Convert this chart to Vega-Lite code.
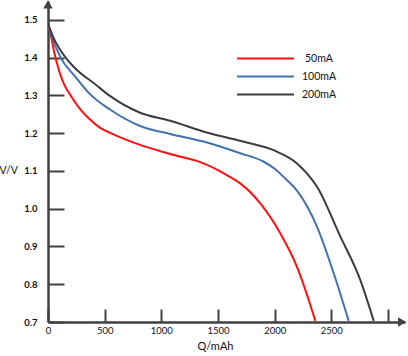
{
  "$schema": "https://vega.github.io/schema/vega-lite/v6.json",
  "autosize": "none",
  "width": 357,
  "height": 321,
  "padding": {"left": 48, "top": 1, "right": 3, "bottom": 34},
  "background": "white",
  "config": {"view": {"stroke": null}, "font": "Lato"},
  "datasets": {
    "curves": [
      {"s": "50mA", "q": 0, "v": 1.490},
      {"s": "50mA", "q": 29, "v": 1.454},
      {"s": "50mA", "q": 53, "v": 1.417},
      {"s": "50mA", "q": 97, "v": 1.366},
      {"s": "50mA", "q": 141, "v": 1.330},
      {"s": "50mA", "q": 200, "v": 1.300},
      {"s": "50mA", "q": 280, "v": 1.265},
      {"s": "50mA", "q": 371, "v": 1.236},
      {"s": "50mA", "q": 450, "v": 1.216},
      {"s": "50mA", "q": 563, "v": 1.199},
      {"s": "50mA", "q": 813, "v": 1.169},
      {"s": "50mA", "q": 1078, "v": 1.145},
      {"s": "50mA", "q": 1372, "v": 1.120},
      {"s": "50mA", "q": 1578, "v": 1.089},
      {"s": "50mA", "q": 1696, "v": 1.067},
      {"s": "50mA", "q": 1873, "v": 1.014},
      {"s": "50mA", "q": 2049, "v": 0.935},
      {"s": "50mA", "q": 2197, "v": 0.846},
      {"s": "50mA", "q": 2359, "v": 0.703},
      {"s": "100mA", "q": 0, "v": 1.490},
      {"s": "100mA", "q": 40, "v": 1.450},
      {"s": "100mA", "q": 112, "v": 1.400},
      {"s": "100mA", "q": 240, "v": 1.350},
      {"s": "100mA", "q": 375, "v": 1.302},
      {"s": "100mA", "q": 550, "v": 1.262},
      {"s": "100mA", "q": 813, "v": 1.219},
      {"s": "100mA", "q": 1078, "v": 1.198},
      {"s": "100mA", "q": 1372, "v": 1.178},
      {"s": "100mA", "q": 1696, "v": 1.147},
      {"s": "100mA", "q": 1900, "v": 1.125},
      {"s": "100mA", "q": 2000, "v": 1.106},
      {"s": "100mA", "q": 2100, "v": 1.078},
      {"s": "100mA", "q": 2197, "v": 1.048},
      {"s": "100mA", "q": 2374, "v": 0.952},
      {"s": "100mA", "q": 2521, "v": 0.829},
      {"s": "100mA", "q": 2653, "v": 0.703},
      {"s": "200mA", "q": 0, "v": 1.490},
      {"s": "200mA", "q": 45, "v": 1.455},
      {"s": "200mA", "q": 156, "v": 1.400},
      {"s": "200mA", "q": 260, "v": 1.366},
      {"s": "200mA", "q": 406, "v": 1.332},
      {"s": "200mA", "q": 540, "v": 1.300},
      {"s": "200mA", "q": 813, "v": 1.254},
      {"s": "200mA", "q": 1078, "v": 1.233},
      {"s": "200mA", "q": 1400, "v": 1.202},
      {"s": "200mA", "q": 1720, "v": 1.178},
      {"s": "200mA", "q": 1990, "v": 1.155},
      {"s": "200mA", "q": 2197, "v": 1.120},
      {"s": "200mA", "q": 2374, "v": 1.058},
      {"s": "200mA", "q": 2580, "v": 0.926},
      {"s": "200mA", "q": 2756, "v": 0.811},
      {"s": "200mA", "q": 2874, "v": 0.703}
    ],
    "arrows": [
      {"q": 0, "v": 1.541, "shape": "triangle-up"},
      {"q": 3125, "v": 0.7, "shape": "triangle-right"}
    ]
  },
  "layer": [
    {
      "data": {"name": "curves"},
      "mark": {"type": "line", "interpolate": "monotone", "strokeWidth": 2, "clip": true},
      "encoding": {
        "x": {
          "field": "q", "type": "quantitative",
          "scale": {"domain": [0, 3150], "nice": false, "zero": false},
          "axis": {
            "values": [0, 500, 1000, 1500, 2000, 2500, 3000],
            "labelExpr": "datum.value == 3000 ? '' : datum.label",
            "format": "d",
            "grid": false,
            "domainColor": "#404040", "domainWidth": 2.5,
            "tickColor": "#404040", "tickWidth": 2, "tickSize": -13,
            "labelPadding": 16, "labelFontSize": 9.5, "labelColor": "#111",
            "labelFlush": false,
            "title": "Q/mAh", "titleFontSize": 11, "titleFontWeight": "normal",
            "titleColor": "#111", "titleX": 167, "titleY": 24,
            "titleAnchor": "middle", "titleBaseline": "middle"
          }
        },
        "y": {
          "field": "v", "type": "quantitative",
          "scale": {"domain": [0.7, 1.55], "nice": false, "zero": false},
          "axis": {
            "values": [0.7, 0.8, 0.9, 1.0, 1.1, 1.2, 1.3, 1.4, 1.5],
            "format": ".1f",
            "grid": false,
            "domainColor": "#404040", "domainWidth": 2.5,
            "tickColor": "#404040", "tickWidth": 2, "tickSize": -16,
            "labelPadding": 27, "labelFontSize": 9.5, "labelColor": "#111",
            "labelFontWeight": "bold", "labelFlush": false,
            "title": "V/V", "titleAngle": 0, "titleFontSize": 10.5,
            "titleFontWeight": "normal", "titleColor": "#111",
            "titleX": -49, "titleY": 169, "titleAlign": "left",
            "titleBaseline": "middle"
          }
        },
        "color": {
          "field": "s", "type": "nominal",
          "scale": {"domain": ["50mA", "100mA", "200mA"], "range": ["#ff1010", "#3f72af", "#3c3c3c"]},
          "legend": {
            "title": null, "orient": "none", "legendX": 211.5, "legendY": 51.5,
            "symbolType": "M-5.7,0H5.7", "symbolSize": 100, "symbolStrokeWidth": 2,
            "symbolFillColor": "transparent",
            "labelFontSize": 10.5, "labelColor": "#111", "labelOffset": 47.5,
            "labelAlign": "center",
            "rowPadding": 6, "padding": 0
          }
        }
      }
    },
    {
      "data": {"name": "arrows"},
      "mark": {"type": "point", "filled": true, "size": 90, "color": "#404040", "opacity": 1, "clip": false},
      "encoding": {
        "x": {"field": "q", "type": "quantitative"},
        "y": {"field": "v", "type": "quantitative"},
        "shape": {"field": "shape", "type": "nominal", "scale": null, "legend": null}
      }
    }
  ]
}
